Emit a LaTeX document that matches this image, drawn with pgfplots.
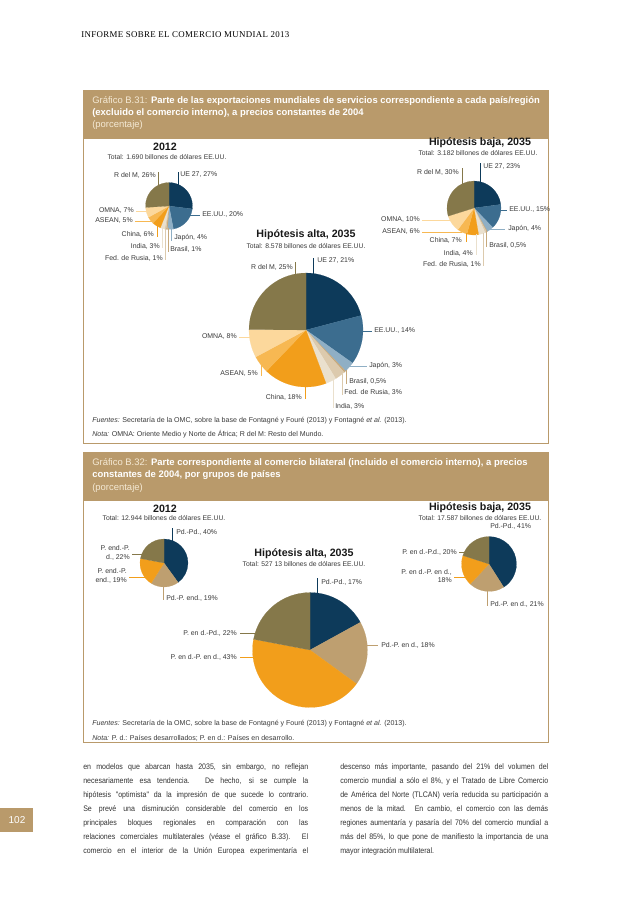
\documentclass[border=0pt]{standalone}
\usepackage{pgfplots}
\pgfplotsset{compat=1.18}
\usepackage{pgfplotstable}
\usepackage{fontspec}
\setmainfont{Liberation Sans}
\newfontfamily\headfont{Liberation Serif}[LetterSpace=4]
\newfontfamily\bodyfont{Liberation Sans}[FakeStretch=0.88]

\definecolor{band}{HTML}{B99A6B}
\definecolor{cream}{HTML}{F4E9D4}
\definecolor{labc}{HTML}{3A3A3A}
\definecolor{cUE}{HTML}{0D3A5A}
\definecolor{cUS}{HTML}{3C6D8F}
\definecolor{cJP}{HTML}{8FAFC5}
\definecolor{cBR}{HTML}{C7A97C}
\definecolor{cRU}{HTML}{DCCAAD}
\definecolor{cIN}{HTML}{EAE0CD}
\definecolor{cCN}{HTML}{F29E1B}
\definecolor{cAS}{HTML}{F7B852}
\definecolor{cOM}{HTML}{FCD89C}
\definecolor{cRM}{HTML}{85784A}
\definecolor{cTan}{HTML}{BE9F70}

% exportaciones de servicios, B.31
\pgfplotstableread{
v c
27 cUE
20 cUS
4 cJP
1 cBR
1 cRU
3 cIN
6 cCN
5 cAS
7 cOM
26 cRM
}\expA
\pgfplotstableread{
v c
23 cUE
15 cUS
4 cJP
0.5 cBR
1 cRU
4 cIN
7 cCN
6 cAS
10 cOM
30 cRM
}\expB
\pgfplotstableread{
v c
21 cUE
14 cUS
3 cJP
0.5 cBR
3 cRU
3 cIN
18 cCN
5 cAS
8 cOM
25 cRM
}\expC
% comercio bilateral, B.32
\pgfplotstableread{
v c
40 cUE
19 cTan
19 cCN
22 cRM
}\bilA
\pgfplotstableread{
v c
41 cUE
21 cTan
18 cCN
20 cRM
}\bilB
\pgfplotstableread{
v c
17 cUE
18 cTan
43 cCN
22 cRM
}\bilC

% slices clockwise from 12 o'clock
\newcommand\drawpie[2]{%
  \pgfplotsextra{%
    \pgfplotstablegetrowsof{#1}%
    \pgfmathtruncatemacro\nrows{\pgfplotsretval-1}%
    \gdef\pietot{0}%
    \foreach \i in {0,...,\nrows}{%
      \pgfplotstablegetelem{\i}{v}\of#1%
      \pgfmathsetmacro\t{\pietot+\pgfplotsretval}\xdef\pietot{\t}}%
    \gdef\angA{90}%
    \foreach \i in {0,...,\nrows}{%
      \pgfplotstablegetelem{\i}{v}\of#1\let\vv\pgfplotsretval
      \pgfplotstablegetelem{\i}{c}\of#1\let\cc\pgfplotsretval
      \pgfmathsetmacro\angB{\angA-360*\vv/\pietot}%
      \filldraw[fill=\cc,draw=\cc,line width=0.1pt] (axis cs:0,0) -- ++(\angA:#2pt)
        arc[start angle=\angA,end angle=\angB,radius=#2pt] -- cycle;
      \xdef\angA{\angB}}%
  }}
\newcommand\pieaxis[3]{%
  \begin{axis}[at={(#1)},anchor=center,hide axis,scale only axis,
    x=1pt,y=1pt,xmin=-#3,xmax=#3,ymin=-#3,ymax=#3,clip=false]
    \addplot[draw=none] coordinates {(0,0)};
    \drawpie{#2}{#3}
  \end{axis}}

\begin{document}
\begin{tikzpicture}[x=0.75pt,y=-0.75pt,
  lab/.style={font=\fontsize{5.2}{6.2}\selectfont,text=labc,inner sep=0pt},
  tot/.style={font=\fontsize{5.1}{6}\selectfont,text=labc,inner sep=0pt},
  ttl/.style={font=\bfseries\fontsize{8}{9}\selectfont,text=black!90,inner sep=0pt},
  bt/.style={font=\fontsize{7.1}{8}\selectfont,text=white,inner sep=0pt,anchor=west},
  fn/.style={font=\fontsize{5.3}{6.3}\selectfont,text=labc,inner sep=0pt,anchor=west},
  bd/.style={font=\bodyfont\fontsize{6}{7}\selectfont,text=black!80,inner sep=0pt,anchor=base west},
  ldr/.style={line width=0.5pt}]
\fill[white] (0,0) rectangle (638,903);
\useasboundingbox (0,0) rectangle (638,903);

\node[font=\headfont\fontsize{6.65}{7.5}\selectfont,anchor=west,inner sep=0pt] at (81,35) {INFORME SOBRE EL COMERCIO MUNDIAL 2013};

% ---------- B.31 ----------
\draw[band,line width=0.6pt] (83,90) rectangle (548,443);
\fill[band] (83,90) rectangle (548,139);
\node[bt] at (92,101) {{\color{cream}Gráfico B.31:} \textbf{Parte de las exportaciones mundiales de servicios correspondiente a cada país/región}};
\node[bt] at (92,113) {\textbf{(excluido el comercio interno), a precios constantes de 2004}};
\node[bt] at (92,125) {{\color{cream}(porcentaje)}};

\coordinate (pa) at (169,206);
\coordinate (pb) at (474,208);
\coordinate (pc) at (306,330);
\pieaxis{pa}{\expA}{17.6}
\pieaxis{pb}{\expB}{20.25}
\pieaxis{pc}{\expC}{42.75}

\node[ttl] at (165,147) {2012};
\node[tot] at (167,157) {Total: 1.690 billones de dólares EE.UU.};
\node[ttl] at (306,235) {Hipótesis alta, 2035};
\node[tot] at (306,246) {Total: 8.578 billones de dólares EE.UU.};
\node[ttl] at (480,143) {Hipótesis baja, 2035};
\node[tot] at (478,153) {Total: 3.182 billones de dólares EE.UU.};

% 2012
\draw[ldr,cUE] (178,172)--(178,187); \node[lab,anchor=west] at (180,175) {UE 27, 27\%};
\draw[ldr,cRM] (158,172)--(158,187); \node[lab,anchor=east] at (156,175) {R del M, 26\%};
\draw[ldr,cUS] (189,215)--(200,215); \node[lab,anchor=west] at (202,215) {EE.UU., 20\%};
\draw[ldr,cOM] (136,211)--(149,211); \node[lab,anchor=east] at (134,211) {OMNA, 7\%};
\draw[ldr,cAS] (135,221)--(152,221); \node[lab,anchor=east] at (133,221) {ASEAN, 5\%};
\draw[ldr,cCN] (157,226)--(157,237); \node[lab,anchor=east] at (154,234) {China, 6\%};
\draw[ldr,cJP] (171,228)--(171,241); \node[lab,anchor=west] at (174,238) {Japón, 4\%};
\draw[ldr,cBR] (168,228)--(168,252); \node[lab,anchor=west] at (170,249) {Brasil, 1\%};
\draw[ldr,cIN] (162,228)--(162,248); \node[lab,anchor=east] at (160,246) {India, 3\%};
\draw[ldr,cRU] (165,228)--(165,260); \node[lab,anchor=east] at (163,258) {Fed. de Rusia, 1\%};
% baja
\draw[ldr,cUE] (480,163)--(480,183); \node[lab,anchor=west] at (483,167) {UE 27, 23\%};
\draw[ldr,cRM] (462,168)--(462,185); \node[lab,anchor=east] at (459,172) {R del M, 30\%};
\draw[ldr,cUS] (499,210)--(507,210); \node[lab,anchor=west] at (509,210) {EE.UU., 15\%};
\draw[ldr,cJP] (488,229)--(505,229); \node[lab,anchor=west] at (508,229) {Japón, 4\%};
\draw[ldr,cBR] (486,231)--(486,247); \node[lab,anchor=west] at (489,245) {Brasil, 0,5\%};
\draw[ldr,cRU] (483,233)--(483,266); \node[lab,anchor=east] at (481,264) {Fed. de Rusia, 1\%};
\draw[ldr,cIN] (476,234)--(476,255); \node[lab,anchor=east] at (473,253) {India, 4\%};
\draw[ldr,cCN] (466,233)--(466,242); \node[lab,anchor=east] at (462,240) {China, 7\%};
\draw[ldr,cAS] (422,232)--(462,232); \node[lab,anchor=east] at (420,232) {ASEAN, 6\%};
\draw[ldr,cOM] (422,220)--(451,220); \node[lab,anchor=east] at (420,220) {OMNA, 10\%};
% alta
\draw[ldr,cUE] (313,258)--(313,275); \node[lab,anchor=west] at (317,261) {UE 27, 21\%};
\draw[ldr,cRM] (295,262)--(295,276); \node[lab,anchor=east] at (293,267) {R del M, 25\%};
\draw[ldr,cUS] (361,331)--(372,331); \node[lab,anchor=west] at (374,331) {EE.UU., 14\%};
\draw[ldr,cOM] (239,337)--(252,337); \node[lab,anchor=east] at (237,337) {OMNA, 8\%};
\draw[ldr,cJP] (348,366)--(367,366); \node[lab,anchor=west] at (369,366) {Japón, 3\%};
\draw[ldr,cAS] (261,362)--(261,376); \node[lab,anchor=east] at (258,374) {ASEAN, 5\%};
\draw[ldr,cBR] (346,370)--(346,384); \node[lab,anchor=west] at (349,381) {Brasil, 0,5\%};
\draw[ldr,cRU] (342,374)--(342,395); \node[lab,anchor=west] at (344,392) {Fed. de Rusia, 3\%};
\draw[ldr,cIN] (333,379)--(333,408); \node[lab,anchor=west] at (335,406) {India, 3\%};
\draw[ldr,cCN] (305,385)--(305,399); \node[lab,anchor=east] at (302,397) {China, 18\%};

\node[fn] at (92,421) {\textit{Fuentes:} Secretaría de la OMC, sobre la base de Fontagné y Fouré (2013) y Fontagné \textit{et al.} (2013).};
\node[fn] at (92,434) {\textit{Nota:} OMNA: Oriente Medio y Norte de África; R del M: Resto del Mundo.};

% ---------- B.32 ----------
\draw[band,line width=0.6pt] (83,452) rectangle (548,742);
\fill[band] (83,452) rectangle (548,501);
\node[bt] at (92,463) {{\color{cream}Gráfico B.32:} \textbf{Parte correspondiente al comercio bilateral (incluido el comercio interno), a precios}};
\node[bt] at (92,475) {\textbf{constantes de 2004, por grupos de países}};
\node[bt] at (92,488) {{\color{cream}(porcentaje)}};

\coordinate (qa) at (164,563);
\coordinate (qb) at (489,564);
\coordinate (qc) at (310,650);
\pieaxis{qa}{\bilA}{18}
\pieaxis{qb}{\bilB}{20.6}
\pieaxis{qc}{\bilC}{43.1}

\node[ttl] at (165,509) {2012};
\node[tot] at (164,518) {Total: 12.944 billones de dólares EE.UU.};
\node[ttl] at (304,554) {Hipótesis alta, 2035};
\node[tot] at (304,564) {Total: 527 13 billones de dólares EE.UU.};
\node[ttl] at (480,508) {Hipótesis baja, 2035};
\node[tot] at (480,518) {Total: 17.587 billones de dólares EE.UU.};

% 2012
\draw[ldr,cUE] (172,528)--(172,542); \node[lab,anchor=west] at (176,532) {Pd.-Pd., 40\%};
\draw[ldr,cRM] (132,554)--(143,554); \node[lab,anchor=east,align=right] at (130,553) {P. end.-P.\\d., 22\%};
\draw[ldr,cCN] (129,577)--(145,577); \node[lab,anchor=east,align=right] at (127,576) {P. end.-P.\\end., 19\%};
\draw[ldr,cTan] (163,586)--(163,600); \node[lab,anchor=west] at (166,598) {Pd.-P. end., 19\%};
% baja
\node[lab,anchor=west] at (490,526) {Pd.-Pd., 41\%};
\draw[ldr,cRM] (459,552)--(468,552); \node[lab,anchor=east] at (457,552) {P. en d.-P.d., 20\%};
\draw[ldr,cCN] (454,577)--(466,577); \node[lab,anchor=east,align=right] at (452,576) {P. en d.-P. en d.,\\18\%};
\draw[ldr,cTan] (487,590)--(487,606); \node[lab,anchor=west] at (490,604) {Pd.-P. en d., 21\%};
% alta
\draw[ldr,cUE] (317,578)--(317,594); \node[lab,anchor=west] at (321,582) {Pd.-Pd., 17\%};
\draw[ldr,cRM] (240,633)--(256,633); \node[lab,anchor=east] at (237,633) {P. en d.-Pd., 22\%};
\draw[ldr,cCN] (240,657)--(254,657); \node[lab,anchor=east] at (237,657) {P. en d.-P. en d., 43\%};
\draw[ldr,cTan] (365,645)--(378,645); \node[lab,anchor=west] at (381,645) {Pd.-P. en d., 18\%};

\node[fn] at (92,724) {\textit{Fuentes:} Secretaría de la OMC, sobre la base de Fontagné y Fouré (2013) y Fontagné \textit{et al.} (2013).};
\node[fn] at (92,738) {\textit{Nota:} P. d.: Países desarrollados; P. en d.: Países en desarrollo.};

% ---------- texto ----------
\node[bd] at (83,769) {\makebox[168.75pt][s]{en modelos que abarcan hasta 2035, sin embargo, no reflejan}};
\node[bd] at (83,783) {\makebox[168.75pt][s]{necesariamente esa tendencia. De hecho, si se cumple la}};
\node[bd] at (83,797) {\makebox[168.75pt][s]{hipótesis "optimista" da la impresión de que sucede lo contrario.}};
\node[bd] at (83,811) {\makebox[168.75pt][s]{Se prevé una disminución considerable del comercio en los}};
\node[bd] at (83,825) {\makebox[168.75pt][s]{principales bloques regionales en comparación con las}};
\node[bd] at (83,839) {\makebox[168.75pt][s]{relaciones comerciales multilaterales (véase el gráfico B.33). El}};
\node[bd] at (83,853) {\makebox[168.75pt][s]{comercio en el interior de la Unión Europea experimentaría el}};
\node[bd] at (340,769) {\makebox[156pt][s]{descenso más importante, pasando del 21\% del volumen del}};
\node[bd] at (340,783) {\makebox[156pt][s]{comercio mundial a sólo el 8\%, y el Tratado de Libre Comercio}};
\node[bd] at (340,797) {\makebox[156pt][s]{de América del Norte (TLCAN) vería reducida su participación a}};
\node[bd] at (340,811) {\makebox[156pt][s]{menos de la mitad. En cambio, el comercio con las demás}};
\node[bd] at (340,825) {\makebox[156pt][s]{regiones aumentaría y pasaría del 70\% del comercio mundial a}};
\node[bd] at (340,839) {\makebox[156pt][s]{más del 85\%, lo que pone de manifiesto la importancia de una}};
\node[bd] at (340,853) {mayor integración multilateral.};

\fill[band] (0,808) rectangle (33,832);
\node[font=\fontsize{7.5}{9}\selectfont,text=white,inner sep=0pt] at (17,820) {102};
\end{tikzpicture}
\end{document}
